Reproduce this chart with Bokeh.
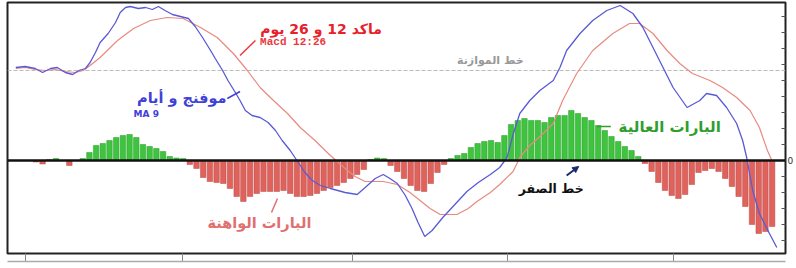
from bokeh.plotting import figure
from bokeh.models import (Range1d, LinearAxis, FixedTicker, Span, Label, Arrow,
                          NormalHead, ColumnDataSource, CustomJSTickFormatter)
from bokeh.embed import file_html
from bokeh.resources import INLINE

# ---- data ----
hist = [0, 0, -0.15, -0.35, 0.1, 0.2, 0.0, -0.5, 0, 0.2,
        0.8, 1.5, 1.7, 2.0, 2.3, 2.5, 2.6, 2.3, 1.6, 1.4,
        1.2, 0.9, 0.4, 0.25, 0.2, -0.4, -0.8, -1.7, -2.1, -2.2,
        -2.3, -2.8, -3.6, -4.1, -3.6, -3.3, -3.1, -3.1, -3.1, -3.0,
        -3.3, -3.6, -3.6, -3.5, -3.3, -3.0, -2.7, -2.5, -2.2, -1.8,
        -1.4, -0.9, 0.1, 0.25, 0.2, -0.5, -1.1, -1.8, -2.5, -3.0,
        -3.1, -2.3, -1.2, -0.4, 0.2, 0.5, 0.7, 1.3, 1.7, 1.9,
        2.0, 1.8, 2.5, 3.6, 4.0, 4.2, 4.0, 4.0, 3.8, 4.3,
        4.5, 4.5, 5.0, 4.7, 4.3, 4.0, 3.5, 3.0, 2.4, 1.9,
        1.4, 1.0, 0.4, -0.3, -1.1, -2.2, -3.0, -3.5, -3.8, -3.4,
        -2.4, -1.2, -1.0, -0.8, -1.1, -1.8, -2.6, -3.6, -4.6, -6.4,
        -7.3, -7.1, -6.6]
periods = list(range(len(hist)))

ma_x = [-1.0, 0.4, 1.9, 3.0, 4.2, 5.2, 6.4, 7.5, 8.4, 9.4, 10.1, 10.9, 11.6, 12.8,
        13.9, 14.6, 15.4, 16.1, 17.3, 18.4, 19.4, 20.3, 21.3, 22.4, 23.6, 24.8,
        25.8, 26.9, 28.1, 28.8, 29.9, 30.7, 31.8, 32.5, 33.3, 34.3, 35.5, 36.7,
        37.8, 38.8, 40.0, 41.2, 42.2, 43.3, 44.5, 46.0, 48.2, 50.0, 51.2, 52.7,
        53.9, 54.9, 56.0, 57.2, 58.2, 59.1, 60.1, 61.2, 62.8, 64.6, 66.4, 68.1,
        69.9, 71.3, 72.4, 73.3, 74.3, 75.8, 77.3, 79.3, 80.3, 81.3, 83.3, 85.2,
        87.3, 89.3, 91.2, 92.7, 94.2, 95.7, 97.2, 99.3, 101.2, 102.2, 103.7,
        105.2, 106.7, 107.6, 108.2, 109.1, 110.1, 111.6, 112.7]
ma_y = [0.3, 0.4, 0.2, -0.2, 0.2, 0.3, -0.2, -0.4, 0.0, 0.2, 0.8, 1.8, 2.8, 3.7,
        4.8, 5.8, 6.3, 6.4, 6.2, 6.3, 6.1, 6.4, 6.0, 5.6, 5.4, 5.2,
        4.4, 3.3, 2.0, 1.2, 0.0, -1.0, -2.2, -3.0, -4.0, -4.5, -4.7, -5.2,
        -6.0, -7.0, -8.0, -9.2, -10.2, -11.0, -11.5, -11.8, -12.2, -12.4, -11.7, -10.8,
        -10.4, -10.8, -11.3, -12.5, -13.8, -15.2, -16.6, -16.0, -14.7, -13.4, -12.1, -11.2,
        -10.4, -9.7, -8.7, -6.4, -4.3, -3.0, -2.0, -1.0, 0.3, 2.0, 3.7, 5.0,
        6.0, 6.5, 5.7, 4.3, 2.3, 0.3, -1.7, -3.7, -3.0, -2.3, -2.5,
        -3.7, -5.3, -7.0, -8.7, -12.0, -14.3, -16.3, -17.7]

macd_x = [-1.0, 0.4, 1.9, 3.4, 4.9, 6.4, 7.9, 9.1, 10.1, 11.6, 14.2, 16.6, 19.1,
          21.6, 24.0, 26.6, 29.1, 31.5, 33.6, 35.5, 37.5, 39.6, 41.5, 43.7, 46.0,
          48.2, 49.7, 51.2, 53.9, 56.0, 57.9, 59.4, 60.9, 62.4, 64.9, 66.6, 67.9,
          69.9, 71.3, 73.3, 74.3, 75.8, 77.8, 79.3, 80.7, 82.8, 85.2, 88.2, 90.7,
          92.2, 94.2, 96.3, 98.2, 100.1, 102.7, 104.6, 106.7, 108.7, 110.1, 111.3, 112.1]
macd_y = [0.2, 0.3, 0.1, 0.0, 0.1, -0.1, -0.2, 0.0, 0.5, 1.3, 3.0, 4.2, 5.0,
          5.3, 5.2, 4.3, 3.3, 1.7, 0.0, -1.7, -3.0, -4.3, -5.7, -7.0, -8.5,
          -9.8, -10.6, -11.1, -11.1, -11.4, -12.2, -13.0, -13.8, -14.4, -14.4, -13.8, -13.1,
          -12.2, -11.4, -10.1, -8.7, -7.5, -6.3, -5.3, -3.0, -0.3, 2.0, 3.7, 4.7,
          4.7, 3.7, 2.0, 0.7, -0.3, -1.0, -1.7, -2.7, -4.0, -5.7, -8.0, -9.2]

right_ticks = [-8.0, -6.4, -4.8, -3.2, -1.6, 1.6, 3.2, 4.8, 6.4, 8.0, 9.6, 11.2, 12.8, 14.4]
bottom_ticks = [0.45, 23.9, 49.3, 72.5, 97.3]

FONT = "DejaVu Sans"

p = figure(width=796, height=268, output_backend="svg", toolbar_location=None,
           x_range=Range1d(-2.24, 114.0), y_range=Range1d(-9.3, 15.8),
           x_axis_location=None, y_axis_location=None,
           min_border_left=7, min_border_top=2, min_border_right=10, min_border_bottom=15)
p.extra_y_ranges = {"lines": Range1d(-18.3, 6.8)}
p.grid.visible = False
p.outline_line_color = "#222222"
p.outline_line_width = 2
p.background_fill_color = "white"
p.border_fill_color = "white"

# right axis (only the zero labelled)
ax_r = LinearAxis(ticker=FixedTicker(ticks=[0], minor_ticks=right_ticks),
                  axis_line_color=None, major_tick_in=4, major_tick_out=0,
                  minor_tick_in=4, minor_tick_out=0,
                  major_tick_line_color="#555555", minor_tick_line_color="#555555",
                  major_label_text_font_size="9px", major_label_text_font=FONT,
                  major_label_text_color="#333333", major_label_standoff=2)
p.add_layout(ax_r, "right")

# bottom strip: tick marks, then a light rule underneath
ax_b = LinearAxis(ticker=FixedTicker(ticks=bottom_ticks), axis_line_color=None,
                  major_tick_in=0, major_tick_out=8, minor_tick_line_color=None,
                  major_tick_line_color="#888888",
                  formatter=CustomJSTickFormatter(code="return ''"),
                  major_label_text_font_size="0px", major_label_standoff=0)
p.add_layout(ax_b, "below")
ax_b2 = LinearAxis(ticker=FixedTicker(ticks=[]), axis_line_color="#aaaaaa",
                   axis_line_width=1.5, major_tick_line_color=None, minor_tick_line_color=None,
                   formatter=CustomJSTickFormatter(code="return ''"),
                   major_label_text_font_size="0px", major_label_standoff=0)
p.add_layout(ax_b2, "below")

# histogram
src = ColumnDataSource(dict(
    x=periods, top=[max(h, 0) for h in hist], bottom=[min(h, 0) for h in hist],
    fill=["#3ec43e" if h >= 0 else "#e0625c" for h in hist],
    line=["#2a9a2a" if h >= 0 else "#b84a44" for h in hist]))
p.vbar(x="x", top="top", bottom="bottom", width=0.82, fill_color="fill",
       line_color="line", line_width=0.5, source=src)

# balance and zero lines
p.add_layout(Span(location=0, dimension="width", y_range_name="lines",
                  line_color="#bbbbbb", line_dash="4 2", line_width=1, level="underlay"))
p.add_layout(Span(location=0, dimension="width", line_color="#111111", line_width=2.5))

# lines
p.line(macd_x, macd_y, y_range_name="lines", line_color="#e88a80", line_width=1.2)
p.line(ma_x, ma_y, y_range_name="lines", line_color="#5a5ad6", line_width=1.3)

def lab(x, y, text, color, size, align="center", style="bold", font=FONT):
    p.add_layout(Label(x=x, y=y, text=text, text_color=color, text_font_size=size,
                       text_font=font, text_font_style=style, text_align=align,
                       text_baseline="middle"))

lab(44.6, 13.2, "ماكد 12 و 26 يوم", "#e8202a", "14px")
lab(35.5, 11.85, "Macd 12:26", "#e83a40", "11px", align="left", font="Liberation Mono")
p.segment(x0=[32.5], y0=[10.5], x1=[34.8], y1=[12.0], line_color="#e83a40", line_width=1.5)

lab(23.8, 6.3, "موفنج و أيام", "#4040d8", "14.5px")
p.segment(x0=[30.6], y0=[6.2], x1=[32.5], y1=[6.9], line_color="#4040d8", line_width=1.5)
lab(16.6, 4.65, "MA 9", "#4040d8", "9px", align="left")

lab(69.9, 10.0, "خط الموازنة", "#999999", "11px")

lab(96.7, 3.4, "البارات العالية", "#2f9e2f", "15px")
p.segment(x0=[85.8], y0=[3.4], x1=[87.9], y1=[3.4], line_color="#2f9e2f", line_width=1.5)

lab(79.0, -2.8, "خط الصفر", "#111111", "12.5px")
p.add_layout(Arrow(end=NormalHead(size=6, fill_color="#1a2a6a", line_color="#1a2a6a"),
                   x_start=81.3, y_start=-1.5, x_end=83.1, y_end=-0.6,
                   line_color="#1a2a6a", line_width=2))

lab(35.4, -6.2, "البارات الواهنة", "#e07070", "14.5px")
p.segment(x0=[37.2], y0=[-5.2], x1=[38.1], y1=[-3.8], line_color="#e07070", line_width=1.5)

open("out.html", "w").write(file_html(p, INLINE))
